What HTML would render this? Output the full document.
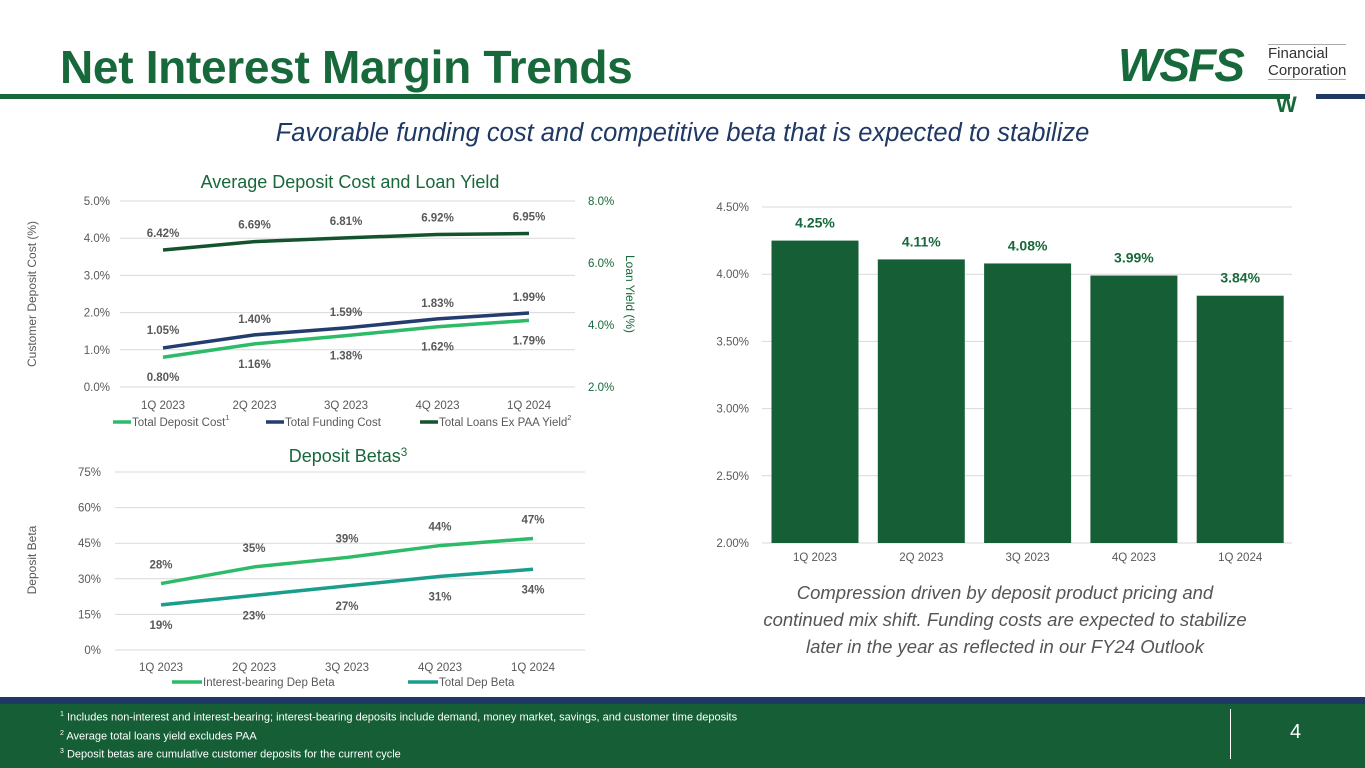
<!DOCTYPE html>
<html><head><meta charset="utf-8">
<style>
body{margin:0;width:1365px;height:768px;position:relative;overflow:hidden;background:#fff;font-family:"Liberation Sans",sans-serif}
.abs{position:absolute}
svg text{font-family:"Liberation Sans",sans-serif}
</style></head><body>
<div class="abs" style="left:60px;top:40px;font-size:46px;font-weight:bold;color:#17683a;letter-spacing:-0.3px">Net Interest Margin Trends</div>
<div class="abs" style="left:0;top:94px;width:1290px;height:5px;background:#17683a"></div>
<div class="abs" style="left:1316px;top:94px;width:49px;height:5px;background:#1f3864"></div>
<div class="abs" style="left:1118px;top:42px;width:240px;height:75px">
  <div style="position:absolute;left:0;top:0;font-size:46px;font-weight:bold;font-style:italic;color:#17683a;letter-spacing:-2px;line-height:46px">WSFS</div>
  <div style="position:absolute;left:150px;top:2px;font-size:15px;color:#333;line-height:17px;border-top:1px solid #aaa;border-bottom:1px solid #aaa">Financial<br>Corporation</div>
  <div style="position:absolute;left:158px;top:50px;font-size:22px;font-weight:bold;color:#17683a">W</div>
</div>
<div class="abs" style="left:0;width:1365px;top:119px;text-align:center;font-size:25.5px;font-style:italic;color:#1f3864">Favorable funding cost and competitive beta that is expected to stabilize</div>

<svg class="abs" style="left:0;top:0" width="1365" height="700" id="charts"></svg>

<div class="abs" style="left:700px;width:610px;top:579px;text-align:center;font-size:18.5px;font-style:italic;color:#555;line-height:27px">Compression driven by deposit product pricing and<br>continued mix shift. Funding costs are expected to stabilize<br>later in the year as reflected in our FY24 Outlook</div>

<div class="abs" style="left:0;top:697px;width:1365px;height:7px;background:#1f3864"></div>
<div class="abs" style="left:0;top:704px;width:1365px;height:64px;background:#155e36;color:#fff;font-size:11px;line-height:16px">
  <div style="position:absolute;left:60px;top:3px"><sup style="font-size:7px">1</sup> Includes non-interest and interest-bearing; interest-bearing deposits include demand, money market, savings, and customer time deposits<br><sup style="font-size:7px">2</sup> Average total loans yield excludes PAA<br><sup style="font-size:7px">3</sup> Deposit betas are cumulative customer deposits for the current cycle</div>
  <div style="position:absolute;left:1230px;top:5px;width:1px;height:50px;background:#fff"></div>
  <div style="position:absolute;left:1290px;top:20px;font-size:20px">4</div>
</div>

<script>
const cats=["1Q 2023","2Q 2023","3Q 2023","4Q 2023","1Q 2024"];
const depositCost=[0.80,1.16,1.38,1.62,1.79];
const fundingCost=[1.05,1.40,1.59,1.83,1.99];
const loanYield=[6.42,6.69,6.81,6.92,6.95];
const ibBeta=[28,35,39,44,47];
const totalBeta=[19,23,27,31,34];
const nim=[4.25,4.11,4.08,3.99,3.84];
const topLeftTicks=[0,1,2,3,4,5];
const topRightTicks=[2,4,6,8];
const betaTicks=[0,15,30,45,60,75];
const nimTicks=[2.0,2.5,3.0,3.5,4.0,4.5];

const svg=document.getElementById('charts');
const NS='http://www.w3.org/2000/svg';
function mk(tag,attrs,name,text){const e=document.createElementNS(NS,tag);for(const k in attrs)e.setAttribute(k,attrs[k]);


if(text!==undefined)e.textContent=text;svg.appendChild(e);return e;}
function sup(parent,t){const s=document.createElementNS(NS,'tspan');s.setAttribute('dy','-6');s.setAttribute('font-size','0.65em');s.textContent=t;parent.appendChild(s);}

// chart 1
const x1=i=>163+i*91.5;
const yL=v=>387-v/5*186;
const yR=v=>387-(v-2)/6*186;
mk('text',{x:350,y:188,'text-anchor':'middle','font-size':18,fill:'#17683a'},'chart1-title','Average Deposit Cost and Loan Yield');
topLeftTicks.forEach(t=>{mk('line',{x1:120,x2:575,y1:yL(t),y2:yL(t),stroke:'#d9d9d9'},'gridline');
mk('text',{x:110,y:yL(t)+4,'text-anchor':'end','font-size':11.5,fill:'#595959'},'y-left-tick',t.toFixed(1)+'%');});
topRightTicks.forEach(t=>mk('text',{x:588,y:yR(t)+4,'font-size':11.5,fill:'#17683a'},'y-right-tick',t.toFixed(1)+'%'));
cats.forEach((c,i)=>mk('text',{x:x1(i),y:409,'text-anchor':'middle','font-size':11.5,fill:'#595959'},'x-tick',c));
mk('text',{x:0,y:0,transform:'translate(36,294) rotate(-90)','text-anchor':'middle','font-size':12,fill:'#595959'},'y-left-title','Customer Deposit Cost (%)');
mk('text',{x:0,y:0,transform:'translate(626,294) rotate(90)','text-anchor':'middle','font-size':12,fill:'#17683a'},'y-right-title','Loan Yield (%)');
function line(vals,xf,yf,col,name){mk('polyline',{points:vals.map((v,i)=>xf(i)+','+yf(v)).join(' '),fill:'none',stroke:col,'stroke-width':3.5},name);}
line(depositCost,x1,yL,'#2dbb6a','line-deposit-cost');
line(fundingCost,x1,yL,'#223d6e','line-funding-cost');
line(loanYield,x1,yR,'#14532d','line-loan-yield');
const lbl={'font-size':11.5,'font-weight':'bold',fill:'#595959','text-anchor':'middle'};
depositCost.forEach((v,i)=>mk('text',Object.assign({x:x1(i),y:yL(v)+24},lbl),'label-deposit-cost',v.toFixed(2)+'%'));
fundingCost.forEach((v,i)=>mk('text',Object.assign({x:x1(i),y:yL(v)-(i==0?14:12)},lbl),'label-funding-cost',v.toFixed(2)+'%'));
loanYield.forEach((v,i)=>mk('text',Object.assign({x:x1(i),y:yR(v)-13},lbl),'label-loan-yield',v.toFixed(2)+'%'));
const leg1=[['Total Deposit Cost','#2dbb6a',113,'1'],['Total Funding Cost','#223d6e',266,''],['Total Loans Ex PAA Yield','#14532d',420,'2']];
leg1.forEach(l=>{mk('line',{x1:l[2],x2:l[2]+18,y1:422,y2:422,stroke:l[1],'stroke-width':3.5},'legend-swatch');
const t=mk('text',{x:l[2]+19,y:426,'font-size':11.5,fill:'#595959'},'legend-entry',l[0]);
if(l[3])sup(t,l[3]);});

// chart 2
const x2=i=>161+i*93;
const yB=v=>650-v/75*178;
const t2=mk('text',{x:348,y:462,'text-anchor':'middle','font-size':18,fill:'#17683a'},'chart2-title','Deposit Betas');
sup(t2,'3');
betaTicks.forEach(t=>{mk('line',{x1:115,x2:585,y1:yB(t),y2:yB(t),stroke:'#d9d9d9'},'gridline');
mk('text',{x:101,y:yB(t)+4,'text-anchor':'end','font-size':11.5,fill:'#595959'},'y-tick',t+'%');});
cats.forEach((c,i)=>mk('text',{x:x2(i),y:671,'text-anchor':'middle','font-size':11.5,fill:'#595959'},'x-tick',c));
mk('text',{x:0,y:0,transform:'translate(36,560) rotate(-90)','text-anchor':'middle','font-size':12,fill:'#595959'},'y-title','Deposit Beta');
line(ibBeta,x2,yB,'#2dbb6a','line-ib-beta');
line(totalBeta,x2,yB,'#1a9e8c','line-total-beta');
ibBeta.forEach((v,i)=>mk('text',Object.assign({x:x2(i),y:yB(v)-15},lbl),'label-ib-beta',v+'%'));
totalBeta.forEach((v,i)=>mk('text',Object.assign({x:x2(i),y:yB(v)+24},lbl),'label-total-beta',v+'%'));
[['Interest-bearing Dep Beta','#2dbb6a',172],['Total Dep Beta','#1a9e8c',408]].forEach(l=>{
mk('line',{x1:l[2],x2:l[2]+30,y1:682,y2:682,stroke:l[1],'stroke-width':3.5},'legend-swatch');
mk('text',{x:l[2]+31,y:686,'font-size':11.5,fill:'#595959'},'legend-entry',l[0]);});

// chart 3 bars
const yN=v=>543-(v-2)/2.5*336;
const xN=i=>815+i*106.3;
nimTicks.forEach(t=>{mk('line',{x1:762,x2:1292,y1:yN(t),y2:yN(t),stroke:'#d9d9d9'},'gridline');
mk('text',{x:749,y:yN(t)+4,'text-anchor':'end','font-size':11.5,fill:'#595959'},'y-tick',t.toFixed(2)+'%');});
nim.forEach((v,i)=>{mk('rect',{x:xN(i)-43.5,y:yN(v),width:87,height:543-yN(v),fill:'#155e36'},'bar-'+cats[i].replace(' ','-').toLowerCase());
mk('text',{x:xN(i),y:yN(v)-13,'text-anchor':'middle','font-size':14,'font-weight':'bold',fill:'#17683a'},'bar-label',v.toFixed(2)+'%');
mk('text',{x:xN(i),y:561,'text-anchor':'middle','font-size':11.5,fill:'#595959'},'x-tick',cats[i]);});
</script>
</body></html>
